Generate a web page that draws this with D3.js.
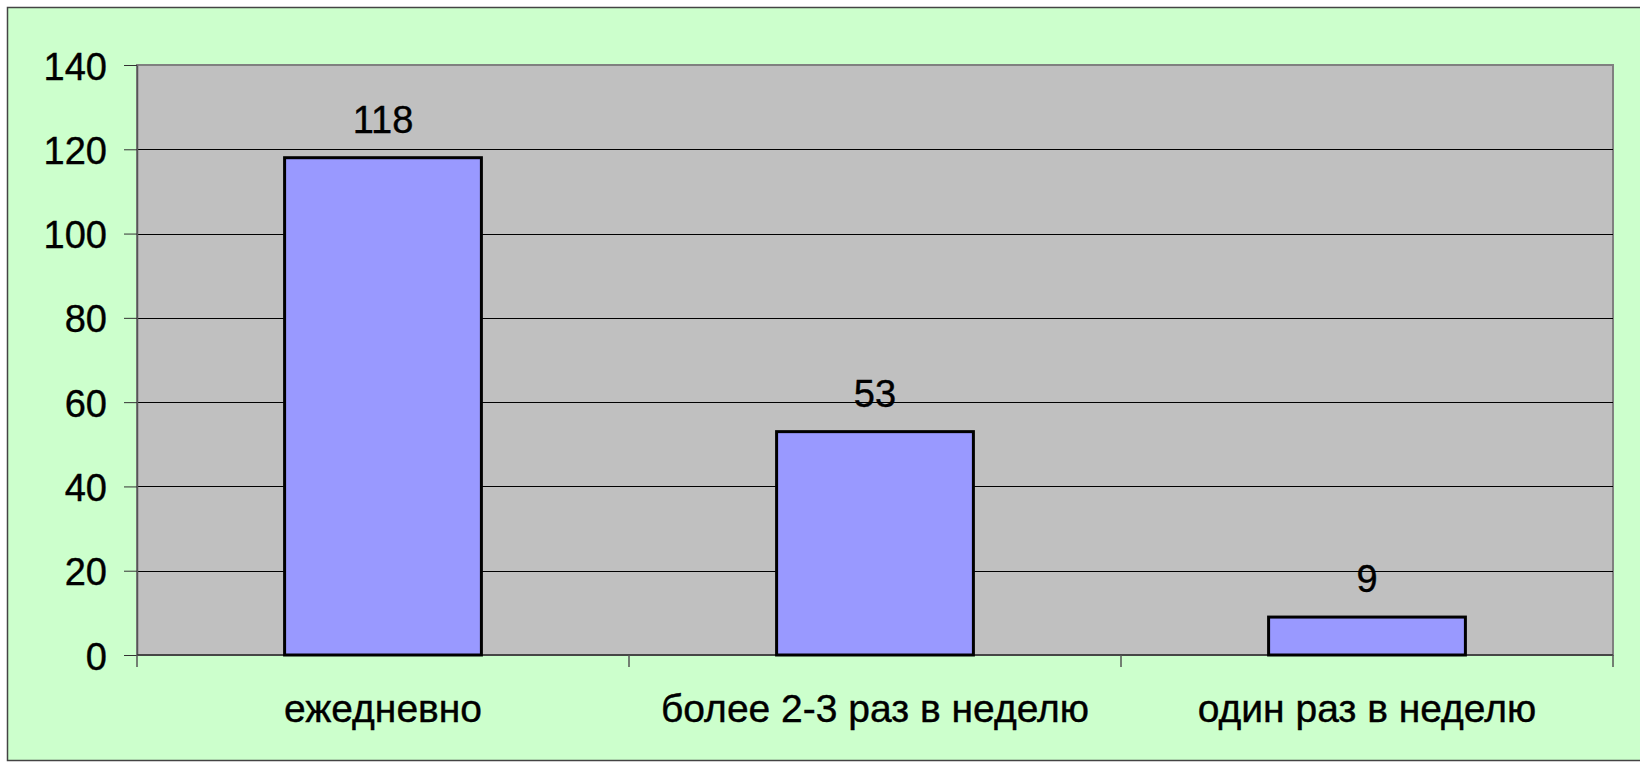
<!DOCTYPE html>
<html><head><meta charset="utf-8">
<script src="https://cdn.jsdelivr.net/npm/d3@7"></script>
<style>html,body{margin:0;padding:0;background:#fff;}svg{display:block;}</style>
</head><body>
<script>
const categories = ["ежедневно", "более 2-3 раз в неделю", "один раз в неделю"];
const values = [118, 53, 9];
const yTicks = [0, 20, 40, 60, 80, 100, 120, 140];

const W = 1640, H = 762;
const plot = {left: 137, top: 65, right: 1613, bottom: 655};
const font = "'Liberation Sans', Arial, sans-serif";

const svg = d3.select("body").append("svg").attr("width", W).attr("height", H);
svg.append("rect").attr("x", 0).attr("y", 0).attr("width", W).attr("height", H).attr("fill", "#fff");
svg.append("rect").attr("x", 7.5).attr("y", 7.5).attr("width", W + 10).attr("height", 753)
  .attr("fill", "#CCFFCC").attr("stroke", "#444").attr("stroke-width", 1.5);

const x = d3.scaleBand().domain(categories).range([plot.left, plot.right]).paddingInner(0.6).paddingOuter(0.3);
const xOuter = d3.scaleBand().domain(categories).range([plot.left, plot.right]);
const y = d3.scaleLinear().domain([0, 140]).range([plot.bottom, plot.top]);

// plot area
svg.append("rect").attr("x", plot.left).attr("y", plot.top)
  .attr("width", plot.right - plot.left).attr("height", plot.bottom - plot.top)
  .attr("fill", "#C0C0C0").attr("stroke", "#808080").attr("stroke-width", 2);

// gridlines
svg.append("g").selectAll("line").data(yTicks.filter(d => d > 0 && d < 140)).join("line")
  .attr("x1", plot.left).attr("x2", plot.right)
  .attr("y1", d => Math.round(y(d)) + 0.5).attr("y2", d => Math.round(y(d)) + 0.5)
  .attr("stroke", "#000").attr("stroke-width", 1.2);

// y axis
const yAxis = d3.axisLeft(y).tickValues(yTicks).tickSize(13).tickPadding(17).tickSizeOuter(0);
const gy = svg.append("g").attr("transform", `translate(${plot.left},0)`).call(yAxis);
gy.select(".domain").attr("stroke", "#555").attr("stroke-width", 1.5);
gy.selectAll(".tick line").attr("stroke", "#333");
gy.selectAll("text").attr("font-family", font).attr("font-size", 38).attr("dy", "0.37em")
  .attr("fill", "#000").attr("stroke", "#000").attr("stroke-width", 0.4);

// x axis
const gx = svg.append("g").attr("transform", `translate(0,${plot.bottom})`);
gx.append("line").attr("x1", plot.left).attr("x2", plot.right).attr("y1", 0).attr("y2", 0)
  .attr("stroke", "#333").attr("stroke-width", 1.5);
const bounds = categories.map(c => xOuter(c)).concat([plot.right]);
gx.selectAll(".xt").data(bounds).join("line").attr("class", "xt")
  .attr("x1", d => d).attr("x2", d => d).attr("y1", 0).attr("y2", 12)
  .attr("stroke", "#555").attr("stroke-width", 1.5);
gx.selectAll(".xl").data(categories).join("text").attr("class", "xl")
  .attr("x", d => xOuter(d) + xOuter.bandwidth() / 2).attr("y", 67)
  .attr("text-anchor", "middle").attr("font-family", font).attr("font-size", 39)
  .attr("fill", "#000").attr("stroke", "#000").attr("stroke-width", 0.4)
  .text(d => d);

// bars
svg.append("g").selectAll("rect").data(values).join("rect")
  .attr("x", (d, i) => x(categories[i])).attr("width", x.bandwidth())
  .attr("y", d => y(d)).attr("height", d => y(0) - y(d))
  .attr("fill", "#9999FF").attr("stroke", "#000").attr("stroke-width", 3);

// value labels
svg.append("g").selectAll("text").data(values).join("text")
  .attr("x", (d, i) => x(categories[i]) + x.bandwidth() / 2).attr("y", d => y(d) - 25)
  .attr("text-anchor", "middle").attr("font-family", font).attr("font-size", 38)
  .attr("fill", "#000").attr("stroke", "#000").attr("stroke-width", 0.4)
  .text(d => d);
</script>
</body></html>
